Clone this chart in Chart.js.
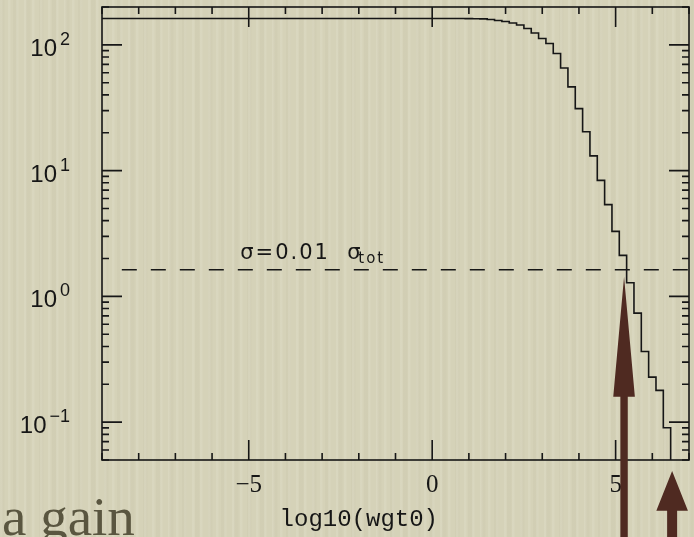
<!DOCTYPE html>
<html>
<head>
<meta charset="utf-8">
<title>log10(wgt0)</title>
<script src="https://cdn.jsdelivr.net/npm/chart.js@4.4.1/dist/chart.umd.min.js"></script>
<style>
  html, body { margin: 0; padding: 0; }
  body {
    width: 694px; height: 537px; overflow: hidden;
    background-color: #d5d2b8;
    background-image:
      repeating-linear-gradient(90deg, rgba(255,255,248,0.10) 0 2px, transparent 3px 8px),
      repeating-linear-gradient(90deg, rgba(110,100,70,0.035) 0 4px, transparent 5px 13px);
  }
  .slide { position: relative; width: 694px; height: 537px; }
  .chart-box { position: absolute; left: 0; top: 0; width: 694px; height: 537px; }
  .slide-text {
    position: absolute; left: 2px; top: 489px;
    font: 55px/1 "Liberation Serif", serif; color: #5a5640; white-space: nowrap;
  }
</style>
</head>
<body>
<div class="slide">
  <div class="chart-box"><canvas id="wgtChart"></canvas></div>
  <div class="slide-text">a gain</div>
</div>
<script>
// histogram of log10(wgt0): left edge of each bin and its height
const binStarts = [-10, 0.9, 1.1, 1.3, 1.5, 1.7, 1.9, 2.1, 2.3, 2.5, 2.7, 2.9, 3.1, 3.3, 3.5, 3.7,
                   3.9, 4.1, 4.3, 4.5, 4.7, 4.9, 5.1, 5.3, 5.5, 5.7, 5.9, 6.1, 6.3, 6.5];
const binCounts = [161.9, 161.6, 161.3, 161.0, 158.9, 156.1, 153.2, 149.4, 143.7, 134.8, 124.4, 112.2, 102.4, 85.3, 65.5, 46.3,
                   31.1, 20.4, 13.1, 8.37, 5.37, 3.29, 2.12, 1.285, 0.736, 0.365, 0.228, 0.179, 0.0903, 0];

// dashed cut line, sigma = 0.01 sigma_tot
const sigmaLevel = 1.63;
const sigmaSpan = [-8.46, 7];

const xTickValues = [-5, 0, 5];
const xTickLabels = ['−5', '0', '5'];
const yTickValues = [0.1, 1, 10, 100];
const yTickExponents = ['−1', '0', '1', '2'];

const ink = '#161616';
const arrowColor = '#4f2a21';

// box round the plot with inward ticks on all four sides, and the 10^n labels
const frameTicks = {
  id: 'frameTicks',
  afterDatasetsDraw(chart) {
    const { ctx, chartArea: a, scales: { x, y } } = chart;
    ctx.save();
    ctx.strokeStyle = ink;
    ctx.lineWidth = 1.6;
    ctx.strokeRect(a.left, a.top, a.right - a.left, a.bottom - a.top);
    ctx.beginPath();
    for (let v = Math.ceil(x.min); v <= x.max; v++) {
      const px = x.getPixelForValue(v);
      const len = v % 5 === 0 ? 20 : 7;
      ctx.moveTo(px, a.bottom); ctx.lineTo(px, a.bottom - len);
      ctx.moveTo(px, a.top); ctx.lineTo(px, a.top + len);
    }
    for (let d = -2; d <= 2; d++) {
      for (let m = 1; m < 10; m++) {
        const v = m * Math.pow(10, d);
        if (v < y.min || v > y.max) continue;
        const py = y.getPixelForValue(v);
        const len = m === 1 ? 20 : 7;
        ctx.moveTo(a.left, py); ctx.lineTo(a.left + len, py);
        ctx.moveTo(a.right, py); ctx.lineTo(a.right - len, py);
      }
    }
    ctx.stroke();

    ctx.fillStyle = ink;
    ctx.textAlign = 'right';
    ctx.textBaseline = 'alphabetic';
    y.ticks.forEach((t, i) => {
      const py = y.getPixelForValue(t.value);
      const right = a.left - 32;
      ctx.font = '18px "Liberation Sans"';
      const w = ctx.measureText(yTickExponents[i]).width;
      ctx.fillText(yTickExponents[i], right, py);
      ctx.font = '24px "Liberation Sans"';
      ctx.fillText('10', right - w - 3, py + 11);
    });
    ctx.restore();
  }
};

function drawArrow(ctx, x, tipY, headY, headHalf, shaftHalf, endY) {
  ctx.beginPath();
  ctx.moveTo(x, tipY);
  ctx.lineTo(x + headHalf, headY);
  ctx.lineTo(x + shaftHalf, headY);
  ctx.lineTo(x + shaftHalf, endY);
  ctx.lineTo(x - shaftHalf, endY);
  ctx.lineTo(x - shaftHalf, headY);
  ctx.lineTo(x - headHalf, headY);
  ctx.closePath();
  ctx.fill();
}

// cut label, axis title and the two slide arrows
const slideMarks = {
  id: 'slideMarks',
  afterDraw(chart) {
    const { ctx, scales: { x, y } } = chart;
    ctx.save();
    ctx.fillStyle = ink;
    ctx.textBaseline = 'alphabetic';
    ctx.textAlign = 'left';

    const lx = x.getPixelForValue(-5.23);
    const ly = y.getPixelForValue(sigmaLevel) - 11;
    ctx.letterSpacing = '2px';
    ctx.font = '21px "DejaVu Sans"';
    ctx.fillText('σ=0.01', lx, ly);
    ctx.fillText('σ', lx + 107, ly);
    ctx.font = '15px "DejaVu Sans"';
    ctx.fillText('tot', lx + 118, ly + 4);

    ctx.letterSpacing = '0px';
    ctx.font = '24px "Liberation Mono"';
    ctx.textAlign = 'center';
    ctx.fillText('log10(wgt0)', x.getPixelForValue(-2), 526);

    ctx.fillStyle = arrowColor;
    drawArrow(ctx, x.getPixelForValue(5.23), 276.7, 396.7, 10.8, 3.7, 537);
    drawArrow(ctx, x.getPixelForValue(6.54), 471, 510.7, 15.8, 5, 537);
    ctx.restore();
  }
};

// the frame is fixed: no extra room for the end labels
const noEdgePadding = s => { s.paddingTop = 0; s.paddingBottom = 0; s.paddingLeft = 0; s.paddingRight = 0; };

const ctx = document.getElementById('wgtChart').getContext('2d');
new Chart(ctx, {
  type: 'line',
  data: {
    datasets: [{
      label: 'wgt0',
      data: binStarts.map((b, i) => ({ x: b, y: binCounts[i] > 0 ? binCounts[i] : 1e-3 })),
      stepped: true,
      borderColor: ink,
      borderWidth: 1.6,
      pointRadius: 0,
      fill: false
    }, {
      label: 'cut',
      data: sigmaSpan.map(v => ({ x: v, y: sigmaLevel })),
      borderColor: ink,
      borderWidth: 1.5,
      borderDash: [15, 14],
      pointRadius: 0,
      fill: false
    }]
  },
  options: {
    responsive: true,
    maintainAspectRatio: false,
    animation: false,
    layout: { padding: { top: 7, right: 5, left: 0, bottom: 0 } },
    plugins: { legend: { display: false }, tooltip: { enabled: false } },
    scales: {
      x: {
        type: 'linear',
        min: -9,
        max: 7,
        grid: { display: false, drawTicks: true, tickLength: 10 },
        border: { display: false },
        afterBuildTicks: s => { s.ticks = xTickValues.map(v => ({ value: v })); },
        afterFit: s => { s.height = 77; noEdgePadding(s); },
        ticks: {
          maxRotation: 0,
          padding: 0,
          color: ink,
          font: { family: '"Liberation Serif"', size: 25 },
          callback: (v, i) => xTickLabels[i]
        }
      },
      y: {
        type: 'logarithmic',
        min: 0.05,
        max: 200,
        grid: { display: false, drawTicks: false },
        border: { display: false },
        afterBuildTicks: s => { s.ticks = yTickValues.map(v => ({ value: v })); },
        afterFit: s => { s.width = 102; noEdgePadding(s); },
        ticks: { display: false }
      }
    }
  },
  plugins: [frameTicks, slideMarks]
});
</script>
</body>
</html>
